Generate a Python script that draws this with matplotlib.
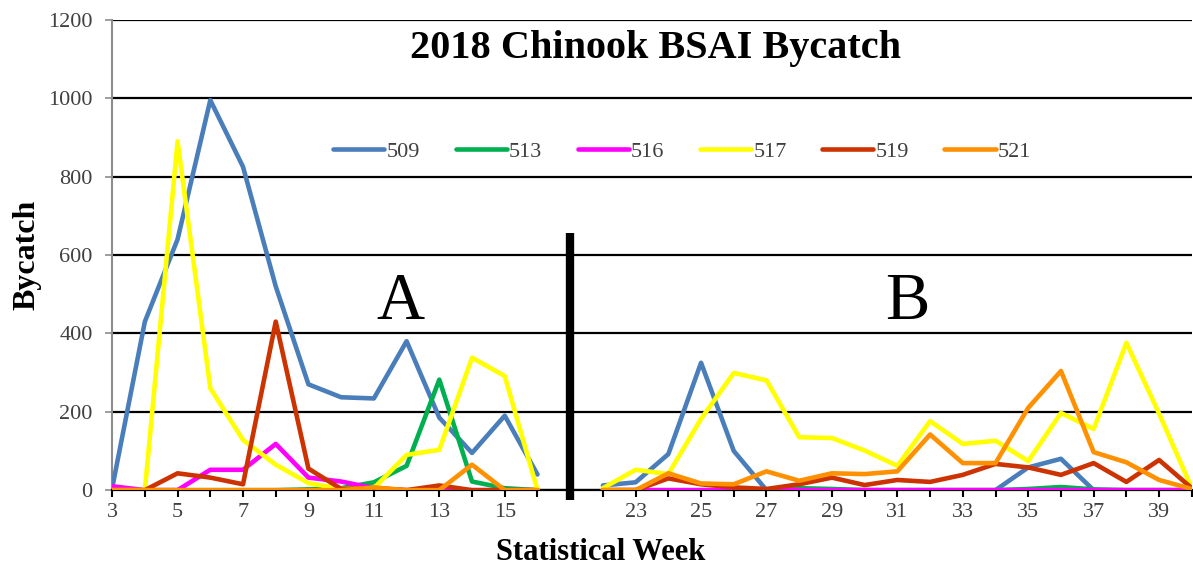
import numpy as np
import matplotlib
matplotlib.use("Agg")
import matplotlib.pyplot as plt

plt.rcParams['font.family'] = ['Liberation Serif', 'DejaVu Serif']

# statistical weeks, blank slot between the A and B seasons
weeks = list(range(3, 17)) + [None] + list(range(22, 41))

# bycatch per week (A season: 3-16, B season: 22-40)
s509_a = [5, 430, 640, 995, 825, 520, 270, 237, 234, 380, 185, 95, 190, 40]
s509_b = [12, 20, 92, 325, 100, 0, 0, 0, 0, 0, 0, 0, 0, 58, 80, 0, 0, 0, 0]
s513_a = [0, 0, 0, 0, 0, 0, 2, 5, 20, 62, 282, 22, 5, 0]
s513_b = [0, 0, 0, 0, 0, 0, 5, 3, 0, 0, 0, 0, 0, 3, 8, 2, 0, 0, 0]
s516_a = [10, 0, 0, 52, 52, 118, 32, 22, 5, 0, 0, 0, 0, 0]
s516_b = [0, 0, 0, 0, 0, 0, 0, 0, 0, 0, 0, 0, 0, 0, 0, 0, 0, 0, 0]
s517_a = [0, 0, 890, 260, 128, 65, 18, 3, 5, 90, 103, 338, 291, 0]
s517_b = [5, 52, 41, 182, 299, 280, 135, 133, 101, 62, 176, 118, 126, 74, 197, 156, 376, 195, 5]
s519_a = [0, 0, 43, 32, 15, 430, 55, 3, 5, 0, 12, 0, 0, 0]
s519_b = [0, 0, 30, 15, 7, 3, 15, 32, 13, 26, 21, 39, 67, 58, 39, 69, 21, 77, 5]
s521_a = [0, 0, 0, 0, 0, 0, 0, 0, 7, 0, 0, 65, 0, 0]
s521_b = [0, 0, 43, 17, 15, 48, 24, 43, 41, 48, 142, 69, 69, 210, 304, 97, 71, 26, 3]

series = [
    ("509", s509_a, s509_b, "#4A7EBB"),
    ("513", s513_a, s513_b, "#00B050"),
    ("516", s516_a, s516_b, "#FF00FF"),
    ("517", s517_a, s517_b, "#FFFF00"),
    ("519", s519_a, s519_b, "#CC3300"),
    ("521", s521_a, s521_b, "#FF9000"),
]

x = np.arange(len(weeks))
gap = weeks.index(None)

fig = plt.figure(figsize=(11.93, 5.66), dpi=100)
ax = fig.add_axes([0.094, 0.134, 0.905, 0.831])

for name, a, b, col in series:
    y = np.array(a + [np.nan] + b, dtype=float)
    ax.plot(x, y, color=col, lw=3.3, solid_capstyle='round',
            solid_joinstyle='round', label=name, zorder=3)

ax.set_xlim(0, len(weeks) - 1)
ax.set_ylim(0, 1200)
ax.set_yticks(range(0, 1201, 200))
ax.yaxis.grid(True, color='black', lw=1.6)
ax.set_axisbelow(True)

labels = []
for w in weeks:
    if w is not None and w % 2 == 1:
        labels.append(str(w))
    else:
        labels.append("")
ax.set_xticks(x)
ax.set_xticklabels(labels)

for s in ['top', 'right']:
    ax.spines[s].set_visible(False)
ax.spines['left'].set_color('#8c8c8c')
ax.spines['left'].set_linewidth(1.5)
ax.spines['bottom'].set_color('black')
ax.spines['bottom'].set_linewidth(1.6)
ax.tick_params(axis='y', direction='out', length=5, width=1.2, color='#8c8c8c',
               labelsize=16, labelcolor='#404040', pad=9)
ax.tick_params(axis='x', direction='out', length=5, width=1.5, color='black',
               labelsize=16, labelcolor='#404040', pad=4)

ax.set_ylabel("Bycatch", fontsize=23, fontweight='bold', labelpad=5)
fig.text(601 / 1193, 1 - 560 / 566, "Statistical Week", ha='center', va='baseline',
         fontsize=22, fontweight='bold')

# divider between A and B season
ax.plot([gap, gap], [-25, 655], color='black', lw=6, solid_capstyle='butt',
        clip_on=False, zorder=4)

ax.text(0.503, 0.94, "2018 Chinook BSAI Bycatch", transform=ax.transAxes,
        ha='center', va='center', fontsize=29, fontweight='bold')
ax.text(8.8, 478, "A", ha='center', va='center', fontsize=48)
ax.text(24.3, 478, "B", ha='center', va='center', fontsize=48)

leg = ax.legend(loc='center', bbox_to_anchor=(0.528, 0.719), ncol=6, frameon=False,
                fontsize=16, handlelength=2.3, handletextpad=0.1, columnspacing=1.6)
for t in leg.get_texts():
    t.set_color('#404040')

fig.savefig("out.png", dpi=100)
